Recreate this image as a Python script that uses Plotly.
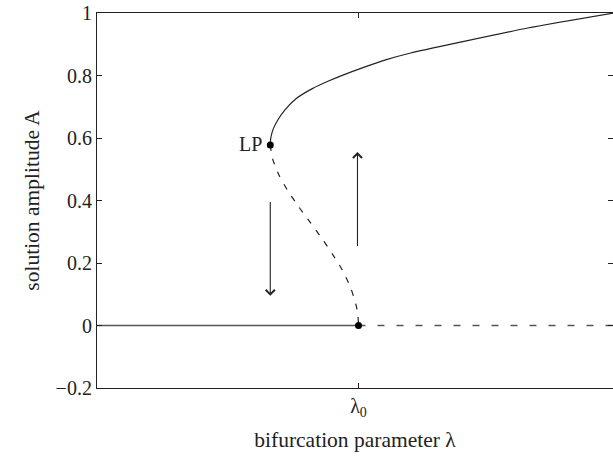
import plotly.graph_objects as go

# stable upper branch (lambda relative to lambda0, amplitude A)
lam_upper = [-0.342, -0.340, -0.330, -0.311, -0.285, -0.240, -0.179, -0.114, -0.058, 0.020, 0.105, 0.202, 0.396, 0.656, 0.99]
A_upper = [0.578, 0.600, 0.630, 0.660, 0.690, 0.727, 0.758, 0.783, 0.802, 0.826, 0.850, 0.872, 0.907, 0.952, 1.0]

# unstable branch
lam_unstable = [-0.342, -0.333, -0.307, -0.270, -0.230, -0.187, -0.138, -0.096, -0.063, -0.030, -0.008, -0.002, 0.0]
A_unstable = [0.578, 0.533, 0.479, 0.426, 0.378, 0.330, 0.274, 0.222, 0.178, 0.120, 0.060, 0.030, 0.0]

# trivial branch
lam_trivial_stable = [-1.02, 0.0]
A_trivial_stable = [0.0, 0.0]
lam_trivial_unstable = [0.0, 1.0]
A_trivial_unstable = [0.0, 0.0]

# special points
lam_points = [-0.342, 0.0]
A_points = [0.578, 0.0]

# arrows (x, y_from, y_to)
arrow_down = (-0.342, 0.40, 0.095)
arrow_up = (-0.004, 0.25, 0.555)

y_ticks = [-0.2, 0, 0.2, 0.4, 0.6, 0.8, 1]
y_tick_text = ["\u22120.2", "0", "0.2", "0.4", "0.6", "0.8", "1"]
x_ticks = [0.0]
x_tick_text = ["\u03bb<sub>0</sub>"]

FONT = "Liberation Serif, Times New Roman, serif"

fig = go.Figure()
fig.add_trace(go.Scatter(x=lam_trivial_stable, y=A_trivial_stable, mode="lines",
                         line=dict(color="#555555", width=1.4), hoverinfo="skip"))
fig.add_trace(go.Scatter(x=lam_trivial_unstable, y=A_trivial_unstable, mode="lines",
                         line=dict(color="#555555", width=1.4, dash="7px,12px"), hoverinfo="skip"))
fig.add_trace(go.Scatter(x=lam_upper, y=A_upper, mode="lines",
                         line=dict(color="#222222", width=1.2, shape="spline", smoothing=0.6),
                         hoverinfo="skip"))
fig.add_trace(go.Scatter(x=lam_unstable, y=A_unstable, mode="lines",
                         line=dict(color="#222222", width=1.2, dash="6px,8px", shape="spline", smoothing=0.6),
                         hoverinfo="skip"))
fig.add_trace(go.Scatter(x=lam_points, y=A_points, mode="markers",
                         marker=dict(color="black", size=7), hoverinfo="skip"))

for (ax_x, y0, y1) in [arrow_down, arrow_up]:
    fig.add_annotation(x=ax_x, y=y1, ax=ax_x, ay=y0, xref="x", yref="y", axref="x", ayref="y",
                       text="", showarrow=True, arrowhead=4, arrowsize=1.6, arrowwidth=1.1,
                       arrowcolor="#222222")

fig.add_annotation(x=lam_points[0], y=A_points[0], text="LP", showarrow=False,
                   xanchor="right", xshift=-6, yshift=1,
                   font=dict(family=FONT, size=20, color="#222222"))

fig.update_layout(
    width=613, height=459,
    margin=dict(l=97, r=0, t=13, b=71),
    plot_bgcolor="white", paper_bgcolor="white",
    showlegend=False,
    font=dict(family=FONT, size=20, color="#222222"),
)
fig.update_xaxes(range=[-1.0136, 0.9864], tickvals=x_ticks, ticktext=x_tick_text,
                 ticks="inside", ticklen=5, tickcolor="#222222",
                 showline=True, linecolor="#222222", linewidth=1.2, mirror="ticks",
                 showgrid=False, zeroline=False, tickfont=dict(size=20),
                 title=dict(text="bifurcation parameter \u03bb", font=dict(size=21.5), standoff=12))
fig.update_yaxes(range=[-0.2, 1.0], tickvals=y_ticks, ticktext=y_tick_text,
                 ticks="inside", ticklen=5, tickcolor="#222222",
                 showline=True, linecolor="#222222", linewidth=1.2, mirror="ticks",
                 showgrid=False, zeroline=False, tickfont=dict(size=20),
                 title=dict(text="solution amplitude A", font=dict(size=21.5), standoff=10))

fig.write_html("out.html")
